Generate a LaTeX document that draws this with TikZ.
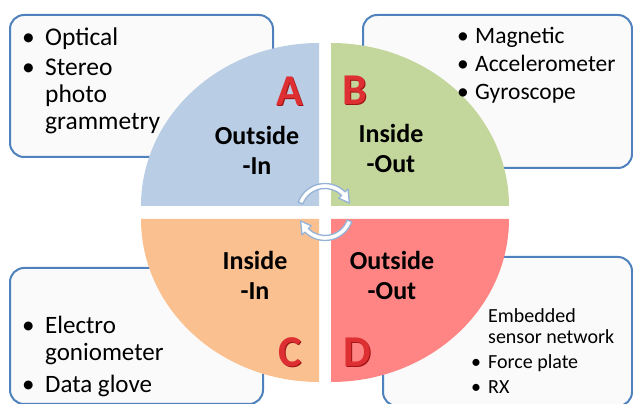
\documentclass[tikz,border=0pt]{standalone}
\usepackage{fontspec}
\setmainfont{Carlito}
\usetikzlibrary{positioning}

\definecolor{boxline}{HTML}{4F81BD}
\definecolor{quadA}{HTML}{B9CDE5}
\definecolor{quadB}{HTML}{C3D69B}
\definecolor{quadC}{HTML}{FAC090}
\definecolor{quadD}{HTML}{FF8585}
\definecolor{lettred}{HTML}{DE2F32}
\definecolor{lettdark}{HTML}{9E1416}
\definecolor{turnblue}{HTML}{95B3D7}

\newcommand{\itm}[1]{\textbullet & #1}

\begin{document}
\begin{tikzpicture}[x=1pt,y=1pt,
  infobox/.style={draw=boxline, line width=2pt, rounded corners=14pt, fill=gray!4},
  list/.style={anchor=north west, inner sep=0pt, align=left},
  lbl/.style={anchor=base, inner sep=0pt, font=\fontsize{26}{30}\selectfont\bfseries},
  letter/.style={inner sep=0pt, font=\fontsize{44}{44}\selectfont\bfseries},
  turn/.style={fill=white, draw=turnblue, line width=1.3pt, line join=round}]

  \useasboundingbox (0,0) rectangle (633,404);

  % Define boxes
  \draw[infobox] (10,247) rectangle (273,389);
  \draw[infobox] (363,236) rectangle (632,389);
  \draw[infobox] (10,0) rectangle (263,136);
  \draw[infobox] (383,-2) rectangle (632,147);

  % Quadrants
  \fill[quadA] (319,198) -- ++(-178,0) arc[start angle=180, end angle=90, x radius=178, y radius=163] -- cycle;
  \fill[quadB] (331,198) -- ++(0,163) arc[start angle=90, end angle=0, x radius=178, y radius=163] -- cycle;
  \fill[quadC] (319,185) -- ++(0,-163) arc[start angle=270, end angle=180, x radius=178, y radius=163] -- cycle;
  \fill[quadD] (331,185) -- ++(178,0) arc[start angle=0, end angle=-90, x radius=178, y radius=163] -- cycle;

  % Lists
  \node[list] (optical) at (22,378) {\fontsize{25.5}{27}\selectfont
    \begin{tabular}{@{}p{23pt}@{}l@{}}
      \itm{Optical}\\[3pt]
      \itm{Stereo}\\
      & photo\\
      & grammetry
    \end{tabular}};
  \node[list] (magnetic) at (457,380.6) {\fontsize{23.5}{28}\selectfont
    \begin{tabular}{@{}p{18pt}@{}l@{}}
      \itm{Magnetic}\\
      \itm{Accelerometer}\\
      \itm{Gyroscope}
    \end{tabular}};
  \node[list] (electro) at (22,89.9) {\fontsize{25}{27}\selectfont
    \begin{tabular}{@{}p{23pt}@{}l@{}}
      \itm{Electro}\\
      & goniometer\\[5pt]
      \itm{Data glove}
    \end{tabular}};
  \node[list] (embedded) at (471,96.7) {\fontsize{20}{21}\selectfont
    \begin{tabular}{@{}p{17pt}@{}l@{}}
      & Embedded\\
      & sensor network\\[4pt]
      \itm{Force plate}\\[4pt]
      \itm{RX}
    \end{tabular}};

  % Quadrant labels
  \node[lbl] (outin) at (257,259) {Outside};
  \node[lbl] (outin2) at (257,229) {-In};
  \node[lbl] (inout) at (391,261) {Inside};
  \node[lbl] (inout2) at (391,231) {-Out};
  \node[lbl] (inin) at (255,134) {Inside};
  \node[lbl] (inin2) at (255,104) {-In};
  \node[lbl] (outout) at (392,134) {Outside};
  \node[lbl] (outout2) at (392,104) {-Out};

  % Letters
  \foreach \ch/\px/\py in {A/290/313, B/355/314, C/290/52, D/357/52} {
    \node[letter, text=lettdark] at (\px+1.2,\py-1.2) {\ch};
    \node[letter, text=lettred] (let\ch) at (\px,\py) {\ch};
  }

  % Turning arrows
  \begin{scope}[shift={(325,192)}]
    \draw[turn] (160:23.5) arc[start angle=160, end angle=45, radius=23.5]
      -- (45:19.5) -- (20:26) -- (45:32.5) -- (45:28.5)
      arc[start angle=45, end angle=160, radius=28.5] -- cycle;
    \draw[turn] (-20:23.5) arc[start angle=-20, end angle=-135, radius=23.5]
      -- (-135:19.5) -- (-160:26) -- (-135:32.5) -- (-135:28.5)
      arc[start angle=-135, end angle=-20, radius=28.5] -- cycle;
  \end{scope}

\end{tikzpicture}
\end{document}
